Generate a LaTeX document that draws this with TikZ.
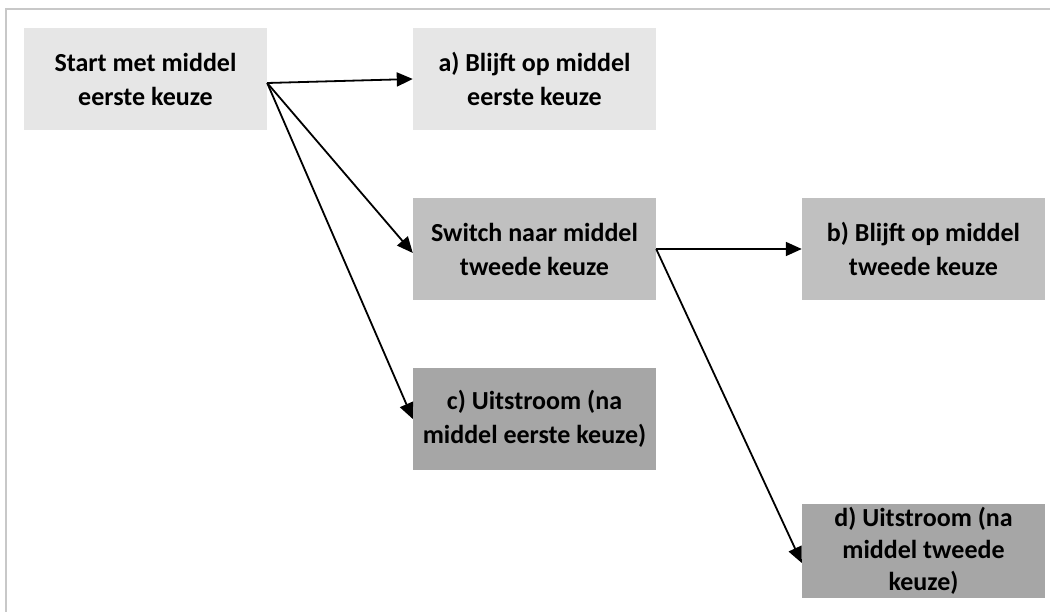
\documentclass[tikz,border=0pt]{standalone}
\usepackage{fontspec}
\setmainfont{Carlito}
\usetikzlibrary{arrows.meta,calc}
\definecolor{boxlight}{HTML}{E6E6E6}
\definecolor{boxmid}{HTML}{C0C0C0}
\definecolor{boxdark}{HTML}{A6A6A6}
\definecolor{framegray}{HTML}{C8C8C8}
\begin{document}
\begin{tikzpicture}[x=1pt,y=-1pt,
  box/.style={minimum width=243pt,minimum height=102pt,inner sep=0pt,align=center,
    font=\fontsize{26}{34}\selectfont\bfseries},
  conn/.style={line width=1.8pt,-{Triangle[length=16pt,width=14pt]}}]
\useasboundingbox (0,0) rectangle (1050,612);
\fill[white] (0,0) rectangle (1050,612);
\draw[framegray,line width=2pt] (6,620) -- (6,9) -- (1060,9);
\node[box,fill=boxlight] (start) at (145.5,79) {Start met middel\\eerste keuze};
\node[box,fill=boxlight] (a) at (534.5,79) {a) Blijft op middel\\eerste keuze};
\node[box,fill=boxmid] (sw) at (534.5,249) {Switch naar middel\\tweede keuze};
\node[box,fill=boxmid] (b) at (923.5,249) {b) Blijft op middel\\tweede keuze};
\node[box,fill=boxdark] (c) at (534.5,419) {c) Uitstroom (na\\middel eerste keuze)};
\node[box,fill=boxdark,minimum height=94pt,font=\fontsize{26}{32}\selectfont\bfseries] (d) at (923.5,551) {d) Uitstroom (na\\middel tweede\\keuze)};
\coordinate (s0) at ($(start.east)+(0,4)$);
\draw[conn] (s0) -- (a.west);
\draw[conn] (s0) -- ($(sw.west)+(0,4)$);
\draw[conn] (s0) -- (c.west);
\draw[conn] (sw.east) -- (b.west);
\draw[conn] (sw.east) -- ($(d.west)+(0,12)$);
\end{tikzpicture}
\end{document}
